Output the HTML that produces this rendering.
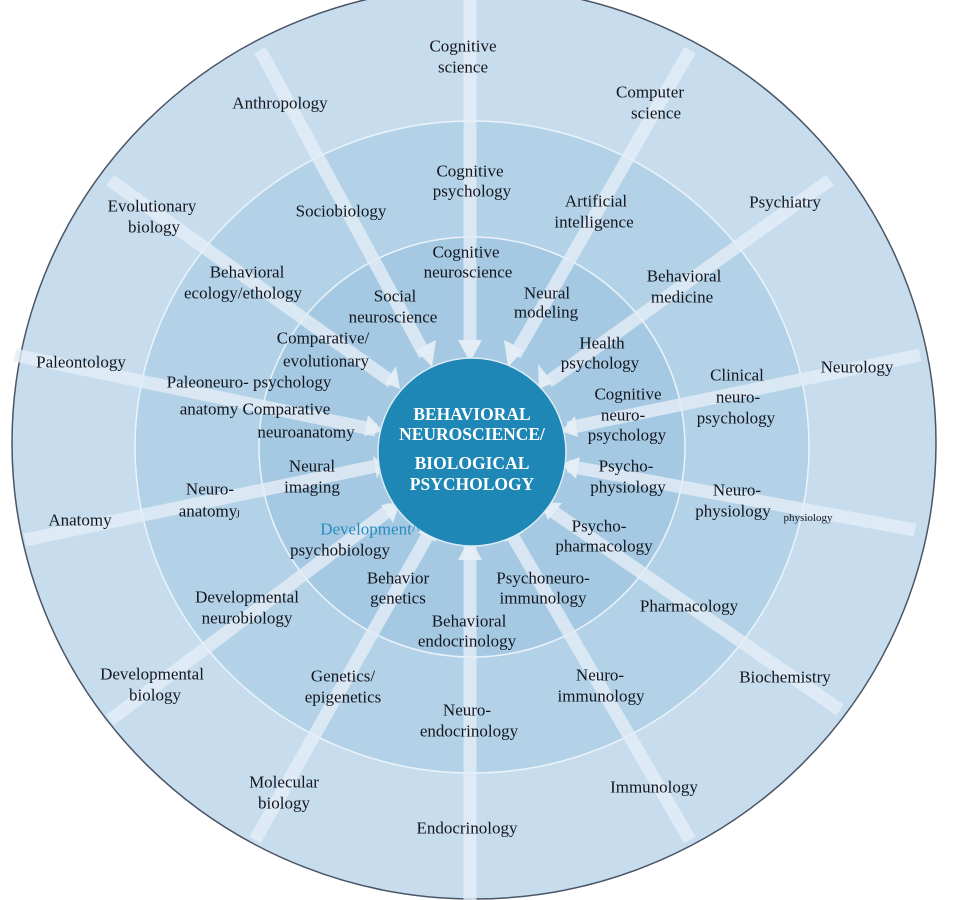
<!DOCTYPE html>
<html><head><meta charset="utf-8"><style>
html,body{margin:0;padding:0;background:#fff;}
svg{display:block;}
text{font-family:"Liberation Serif",serif;font-size:17px;fill:#14161f;text-anchor:middle;dominant-baseline:central;}
.c{fill:#fff;font-weight:bold;font-size:17.5px;}
</style></head><body>
<svg width="956" height="900" viewBox="0 0 956 900" xmlns="http://www.w3.org/2000/svg">
<ellipse cx="474" cy="443" rx="462" ry="456" fill="#c7dded" stroke="#4a5566" stroke-width="1.5"/>
<ellipse cx="472" cy="447" rx="337" ry="326" fill="#b3d2e7" stroke="#eaf3fa" stroke-width="1.5"/>
<ellipse cx="472" cy="447" rx="213" ry="210" fill="#a5c9e2" stroke="#eaf3fa" stroke-width="1.5"/>
<g stroke="#e4eef6" stroke-width="13" stroke-opacity="0.8" fill="none">
<line x1="470" y1="0" x2="470" y2="345"/>
<line x1="260" y1="50" x2="425" y2="355"/>
<line x1="690" y1="50" x2="515" y2="355"/>
<line x1="830" y1="180" x2="548" y2="382"/>
<line x1="920" y1="355" x2="568" y2="428"/>
<line x1="915" y1="530" x2="568" y2="466"/>
<line x1="840" y1="710" x2="548" y2="508"/>
<line x1="690" y1="840" x2="512" y2="535"/>
<line x1="470" y1="900" x2="470" y2="545"/>
<line x1="255" y1="840" x2="428" y2="535"/>
<line x1="110" y1="720" x2="392" y2="508"/>
<line x1="25" y1="540" x2="376" y2="466"/>
<line x1="15" y1="355" x2="376" y2="430"/>
<line x1="110" y1="180" x2="392" y2="382"/>
</g>
<g fill="#e4eef6" fill-opacity="0.95">
<polygon points="470,362 458,340 482,340"/>
<polygon points="432,367 416,350 436,340"/>
<polygon points="508,367 504,340 524,350"/>
<polygon points="539,389 538,364 553,383"/>
<polygon points="561,431 575,416 578,437"/>
<polygon points="561,464 580,457 576,479"/>
<polygon points="540,502 562,503 548,520"/>
<polygon points="506,526 524,532 505,542"/>
<polygon points="470,538 482,560 458,560"/>
<polygon points="434,526 436,542 417,532"/>
<polygon points="400,502 393,523 381,505"/>
<polygon points="383,464 377,479 373,456"/>
<polygon points="383,431 364,436 368,415"/>
<polygon points="400,389 385,383 396,366"/>
</g>
<circle cx="472" cy="452" r="94" fill="#1f87b6" stroke="#dbeaf4" stroke-width="1.5"/>
<text class="c" x="472" y="414">BEHAVIORAL</text>
<text class="c" x="472" y="434">NEUROSCIENCE/</text>
<text class="c" x="472" y="463">BIOLOGICAL</text>
<text class="c" x="472" y="484">PSYCHOLOGY</text>

<text x="463" y="46">Cognitive</text><text x="463" y="67">science</text>
<text x="280" y="103">Anthropology</text>
<text x="650" y="92">Computer</text><text x="656" y="113">science</text>
<text x="470" y="171">Cognitive</text><text x="472" y="191">psychology</text>
<text x="341" y="211">Sociobiology</text>
<text x="596" y="201">Artificial</text><text x="594" y="222">intelligence</text>
<text x="152" y="206">Evolutionary</text><text x="154" y="227">biology</text>
<text x="785" y="202">Psychiatry</text>
<text x="466" y="252">Cognitive</text><text x="468" y="272">neuroscience</text>
<text x="247" y="272">Behavioral</text><text x="243" y="293">ecology/ethology</text>
<text x="684" y="276">Behavioral</text><text x="682" y="297">medicine</text>
<text x="395" y="296">Social</text><text x="393" y="317">neuroscience</text>
<text x="547" y="293">Neural</text><text x="546" y="312">modeling</text>
<text x="323" y="338">Comparative/</text><text x="326" y="361">evolutionary</text>
<text x="249" y="382">Paleoneuro- psychology</text>
<text x="602" y="343">Health</text><text x="600" y="363">psychology</text>
<text x="81" y="362">Paleontology</text>
<text x="857" y="367">Neurology</text>
<text x="737" y="375">Clinical</text><text x="738" y="397">neuro-</text><text x="736" y="418">psychology</text>
<text x="255" y="409">anatomy Comparative</text>
<text x="306" y="432">neuroanatomy</text>
<text x="628" y="394">Cognitive</text><text x="623" y="415">neuro-</text><text x="627" y="435">psychology</text>
<text x="312" y="466">Neural</text><text x="312" y="487">imaging</text>
<text x="626" y="466">Psycho-</text><text x="628" y="487">physiology</text>
<text x="210" y="489">Neuro-</text><text x="208" y="511">anatomy</text><text x="238" y="515" style="font-size:10px">J</text>
<text x="737" y="490">Neuro-</text><text x="733" y="511">physiology</text>
<text x="808" y="518" style="font-size:11px">physiology</text>
<text x="80" y="520">Anatomy</text>
<text x="370" y="529" style="fill:#2a8bc0">Development^</text>
<text x="340" y="550">psychobiology</text>
<text x="599" y="526">Psycho-</text><text x="604" y="546">pharmacology</text>
<text x="398" y="578">Behavior</text><text x="398" y="598">genetics</text>
<text x="543" y="578">Psychoneuro-</text><text x="543" y="598">immunology</text>
<text x="247" y="597">Developmental</text><text x="247" y="618">neurobiology</text>
<text x="689" y="606">Pharmacology</text>
<text x="469" y="621">Behavioral</text><text x="467" y="641">endocrinology</text>
<text x="152" y="674">Developmental</text><text x="155" y="695">biology</text>
<text x="785" y="677">Biochemistry</text>
<text x="343" y="676">Genetics/</text><text x="343" y="697">epigenetics</text>
<text x="600" y="675">Neuro-</text><text x="601" y="696">immunology</text>
<text x="467" y="710">Neuro-</text><text x="469" y="731">endocrinology</text>
<text x="284" y="782">Molecular</text><text x="284" y="803">biology</text>
<text x="654" y="787">Immunology</text>
<text x="467" y="828">Endocrinology</text>
</svg>
</body></html>
